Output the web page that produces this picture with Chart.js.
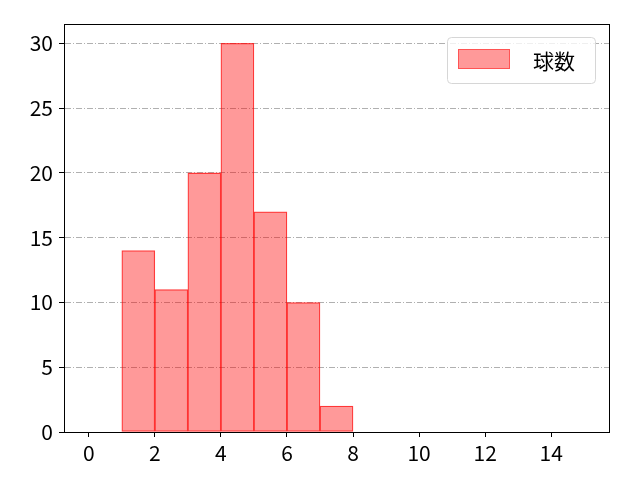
<!DOCTYPE html>
<html>
<head>
<meta charset="utf-8">
<script src="https://cdn.jsdelivr.net/npm/chart.js@4/dist/chart.umd.min.js"></script>
<style>
  html, body { margin: 0; padding: 0; background: #fff; }
  #wrap { width: 640px; height: 480px; }
</style>
</head>
<body>
<div id="wrap"><canvas id="chart" width="640" height="480"></canvas></div>
<script>
// histogram bins (left edges) and counts
const binStarts = [0, 1, 2, 3, 4, 5, 6, 7, 8, 9, 10, 11, 12, 13, 14];
const counts = [0, 14, 11, 20, 30, 17, 10, 2, 0, 0, 0, 0, 0, 0, 0];
const xTicks = [0, 2, 4, 6, 8, 10, 12, 14];
const yTicks = [0, 5, 10, 15, 20, 25, 30];
const seriesLabel = '球数';

const FONT = '"Noto Sans CJK JP", "Noto Sans", sans-serif';

// box around the plot area, like matplotlib spines
const frame = {
  id: 'frame',
  afterDraw(chart) {
    const { ctx, chartArea: a } = chart;
    ctx.save();
    ctx.strokeStyle = '#000';
    ctx.lineWidth = 1;
    ctx.strokeRect(Math.round(a.left) + 0.5, Math.round(a.top) + 0.5,
      Math.round(a.right - a.left), Math.round(a.bottom - a.top));
    ctx.restore();
  }
};

// legend drawn inside the plot, upper right
const innerLegend = {
  id: 'innerLegend',
  afterDraw(chart) {
    const { ctx, chartArea: a } = chart;
    const ds = chart.data.datasets[0];
    const w = 148, h = 46;
    const x = a.right - 14 - w, y = a.top + 13;
    ctx.save();
    ctx.beginPath();
    ctx.roundRect(x + 0.5, y + 0.5, w, h, 4);
    ctx.fillStyle = 'rgba(255,255,255,0.8)';
    ctx.fill();
    ctx.strokeStyle = '#d6d6d6';
    ctx.lineWidth = 1;
    ctx.stroke();
    ctx.fillStyle = ds.backgroundColor;
    ctx.fillRect(x + 11, y + 12, 52, 20);
    ctx.strokeStyle = 'rgba(255, 0, 0, 0.45)';
    ctx.strokeRect(x + 11.5, y + 12.5, 51, 19);
    ctx.fillStyle = '#000';
    ctx.font = '21px ' + FONT;
    ctx.textBaseline = 'middle';
    ctx.fillText(ds.label, x + 86, y + h / 2 + 1);
    ctx.restore();
  }
};

new Chart(document.getElementById('chart'), {
  type: 'bar',
  data: {
    datasets: [{
      label: seriesLabel,
      data: binStarts.map((b, i) => ({ x: b + 0.5, y: counts[i] })),
      backgroundColor: 'rgba(255, 0, 0, 0.4)',
      borderColor: 'rgba(255, 0, 0, 0.7)',
      borderWidth: 0.6,
      borderSkipped: false,
      barPercentage: 1,
      categoryPercentage: 1
    }]
  },
  options: {
    responsive: false,
    animation: false,
    layout: { padding: { top: 24, right: 31, left: 0, bottom: 0 } },
    plugins: { legend: { display: false }, tooltip: { enabled: false } },
    scales: {
      x: {
        type: 'linear',
        offset: false,
        min: -0.75,
        max: 15.75,
        afterBuildTicks: (s) => { s.ticks = xTicks.map(v => ({ value: v })); },
        afterFit: (s) => { s.height = 48; },
        grid: { offset: false, drawOnChartArea: false, drawTicks: true, tickLength: 5, tickColor: '#000' },
        border: { display: true, color: '#000' },
        ticks: { color: '#000', font: { family: FONT, size: 21 }, padding: 3, maxRotation: 0 }
      },
      y: {
        min: 0,
        max: 31.5,
        afterBuildTicks: (s) => { s.ticks = yTicks.map(v => ({ value: v })); },
        afterFit: (s) => { s.width = 64; },
        grid: {
          color: '#b0b0b0',
          lineWidth: 1,
          drawTicks: true,
          tickLength: 5,
          tickColor: '#000',
          tickBorderDash: [],
          borderDash: [6, 2, 1, 2]
        },
        border: { display: true, color: '#000', dash: [6, 2, 1, 2] },
        ticks: { color: '#000', font: { family: FONT, size: 21 }, padding: 6 }
      }
    }
  },
  plugins: [frame, innerLegend]
});
</script>
</body>
</html>
